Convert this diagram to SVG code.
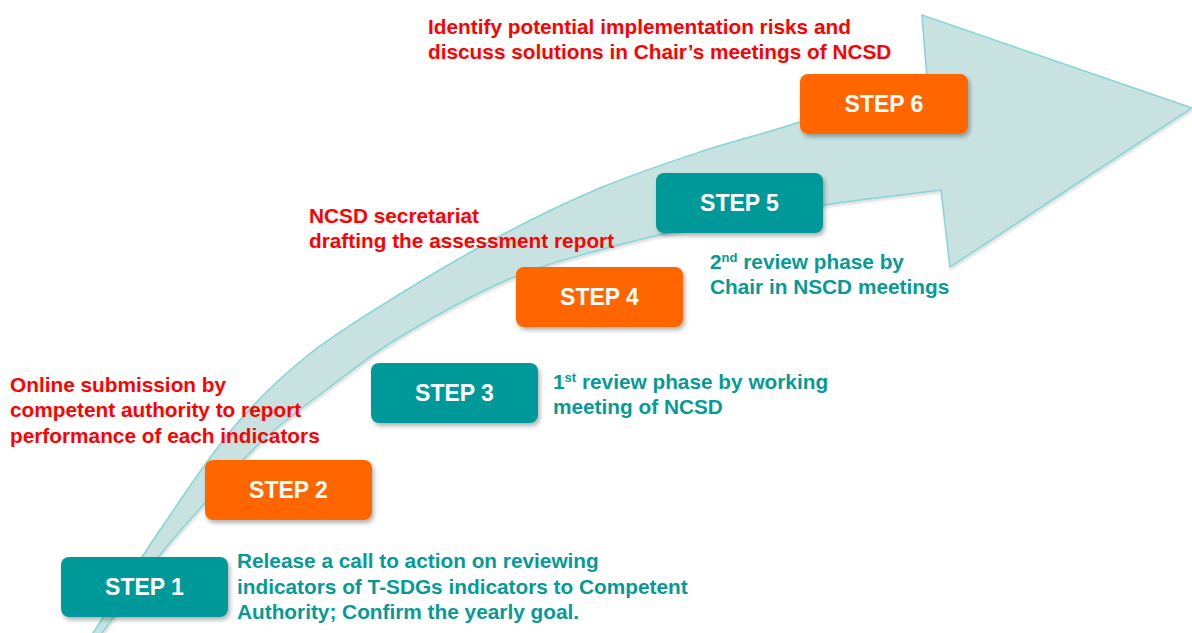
<svg xmlns="http://www.w3.org/2000/svg" width="1192" height="633" viewBox="0 0 1192 633">
<defs>
<filter id="sh" x="-10%" y="-10%" width="125%" height="140%">
<feDropShadow dx="2" dy="3" stdDeviation="2" flood-color="#000" flood-opacity="0.3"/>
</filter>
<filter id="ash" x="-5%" y="-5%" width="110%" height="110%">
<feDropShadow dx="1" dy="2" stdDeviation="1.5" flood-color="#000" flood-opacity="0.15"/>
</filter>
</defs>
<style>
.box{filter:url(#sh)}
.teal{fill:#009999}
.orange{fill:#FF6600}
.lbl{font-family:"Liberation Sans",Arial,sans-serif;font-weight:bold;font-size:23px;fill:#fff;text-anchor:middle}
.red{font-family:"Liberation Sans",Arial,sans-serif;font-weight:bold;font-size:20.8px;fill:#FF0000}
.tt{font-family:"Liberation Sans",Arial,sans-serif;font-weight:bold;font-size:20.8px;fill:#069A96}
</style>
<rect width="1192" height="633" fill="#fff"/>
<g id="connectors">
<path id="big-arrow" filter="url(#ash)" fill="#C7E2E0" stroke="#86D4D6" stroke-width="1.5" stroke-linejoin="miter"
d="M86,645 L93,633 C104.2,615.8 136.7,564.2 160,530 C183.3,495.8 208.5,457 233,428 C257.5,399 279.2,378.3 307,356 C334.8,333.7 367.8,314 400,294 C432.2,274 466.7,253.7 500,236 C533.3,218.3 566.7,202 600,188 C633.3,174 666.7,163 700,152 C733.3,141 762.2,134.3 800,122 C837.8,109.7 905.8,85.3 927,78 L922,15 L1192,108 L950,267 L941,190 C921.3,192.5 863.2,199 823,205 C782.8,211 737.2,218.5 700,226 C662.8,233.5 632.2,241 600,250 C567.8,259 540.3,265.5 507,280 C473.7,294.5 429.5,319.2 400,337 C370.5,354.8 352.8,369.8 330,387 C307.2,404.2 283.8,420.7 263,440 C242.2,459.3 222.2,483.8 205,503 C187.8,522.2 177.2,533.3 160,555 C142.8,576.7 111.7,620 102,633 L98,645 Z"/>
</g>
<g id="step1"><rect class="box teal" x="61" y="557" width="167" height="60" rx="8"/><text class="lbl" x="144.5" y="595">STEP 1</text></g>
<g id="step2"><rect class="box orange" x="205" y="460" width="167" height="60" rx="8"/><text class="lbl" x="288.5" y="498">STEP 2</text></g>
<g id="step3"><rect class="box teal" x="371" y="363" width="167" height="60" rx="8"/><text class="lbl" x="454.5" y="401">STEP 3</text></g>
<g id="step4"><rect class="box orange" x="516" y="267" width="167" height="60" rx="8"/><text class="lbl" x="599.5" y="305">STEP 4</text></g>
<g id="step5"><rect class="box teal" x="656" y="173" width="167" height="60" rx="8"/><text class="lbl" x="739.5" y="211">STEP 5</text></g>
<g id="step6"><rect class="box orange" x="800" y="74" width="168" height="60" rx="8"/><text class="lbl" x="884" y="112">STEP 6</text></g>
<g id="note6"><text class="red" x="428" y="34">Identify potential implementation risks and</text><text class="red" x="428" y="59">discuss solutions in Chair’s meetings of NCSD</text></g>
<g id="note4"><text class="red" x="309" y="223">NCSD secretariat</text><text class="red" x="309" y="248">drafting the assessment report</text></g>
<g id="note2"><text class="red" x="10" y="392">Online submission by</text><text class="red" x="10" y="417">competent authority to report</text><text class="red" x="10" y="443">performance of each indicators</text></g>
<g id="note1"><text class="tt" x="237" y="568">Release a call to action on reviewing</text><text class="tt" x="237" y="594">indicators of T-SDGs indicators to Competent</text><text class="tt" x="237" y="619">Authority; Confirm the yearly goal.</text></g>
<g id="note3"><text class="tt" x="553" y="389">1<tspan dy="-7" font-size="13">st</tspan><tspan dy="7"> review phase by working</tspan></text><text class="tt" x="553" y="414">meeting of NCSD</text></g>
<g id="note5"><text class="tt" x="710" y="269">2<tspan dy="-7" font-size="13">nd</tspan><tspan dy="7"> review phase by</tspan></text><text class="tt" x="710" y="294">Chair in NSCD meetings</text></g>
</svg>
